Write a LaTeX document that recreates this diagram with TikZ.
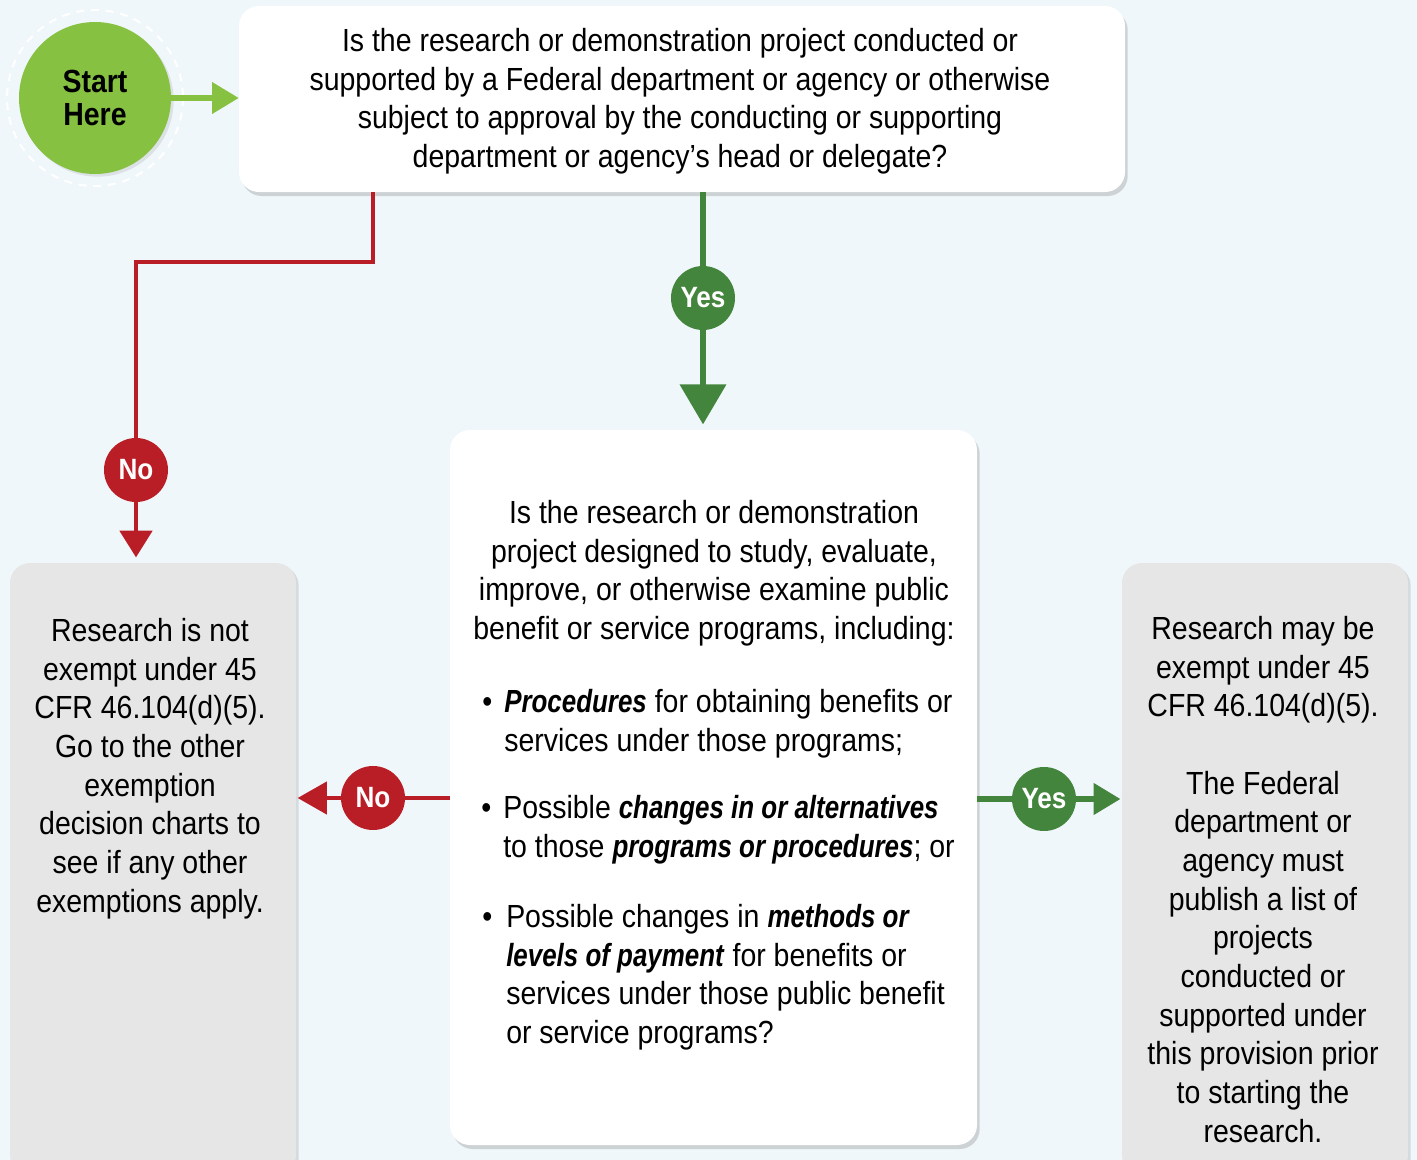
\documentclass[tikz,border=0pt]{standalone}
\usepackage{fontspec}
\setmainfont{Liberation Sans}[
	UprightFeatures={FakeStretch=0.89},
	BoldFeatures={FakeStretch=0.89},
	ItalicFeatures={FakeStretch=0.89},
	BoldItalicFeatures={FakeStretch=0.81}]
\usetikzlibrary{arrows.meta,shadows}

\definecolor{bgblue}{HTML}{F0F7FB}
\definecolor{startgreen}{HTML}{86C141}
\definecolor{yesgreen}{HTML}{44853D}
\definecolor{nored}{HTML}{B91E27}
\definecolor{resgray}{HTML}{E6E6E6}

\newlength\unitpx
\setlength\unitpx{0.75pt}

\tikzset{
	txt/.style={font=\fontsize{24}{29}\selectfont, inner sep=0pt, align=center},
	qbox/.style={fill=white, rounded corners=15pt,
		drop shadow={shadow xshift=2pt, shadow yshift=-3pt, opacity=0.25, fill=black!60}},
	resbox/.style={fill=resgray, rounded corners=15pt,
		drop shadow={shadow xshift=2pt, shadow yshift=-2pt, opacity=0.2, fill=black!60}},
	badge/.style={circle, inner sep=0pt, minimum size=64\unitpx, text=white,
		font=\fontsize{22}{26}\selectfont\bfseries},
	yesline/.style={draw=yesgreen, line width=4.5pt},
	noline/.style={draw=nored, line width=3.5pt},
}

\begin{document}
\begin{tikzpicture}[x=0.75pt, y=-0.75pt]
	\useasboundingbox (0,0) rectangle (1417,1160);
	\fill[bgblue] (0,0) rectangle (1417,1160);

	% boxes
	\draw (682,99) node(q1) [qbox, minimum width=886\unitpx, minimum height=186\unitpx] {};
	\draw (713.5,787.5) node(q2) [qbox, minimum width=527\unitpx, minimum height=715\unitpx] {};
	\draw (153,869) node(resno) [resbox, minimum width=286\unitpx, minimum height=612\unitpx] {};
	\draw (1265,869) node(resyes) [resbox, minimum width=286\unitpx, minimum height=612\unitpx] {};

	% start
	\draw (95,98) node(start) [circle, fill=startgreen, minimum size=152\unitpx, inner sep=0pt,
		drop shadow={shadow xshift=2pt, shadow yshift=-2pt, opacity=0.15, fill=black!60},
		font=\fontsize{24}{25}\selectfont\bfseries, align=center] {Start\\Here};
	\draw[white, line width=1.5pt, dash pattern=on 6pt off 5pt] (start.center) circle[radius=88];

	% badges
	\draw (703,298) node(yes1) [badge, fill=yesgreen] {Yes};
	\draw (136,470) node(no1) [badge, fill=nored] {No};
	\draw (373,798) node(no2) [badge, fill=nored] {No};
	\draw (1044,799) node(yes2) [badge, fill=yesgreen] {Yes};
	\coordinate (bend) at (373,262);

	% connectors
	\path[draw=startgreen, line width=3.8pt, -{Triangle[length=20pt, width=23pt]}] (start) -- (start -| q1.west);
	\path[yesline] (q1.south -| yes1) -- (yes1);
	\path[yesline, -{Triangle[length=30pt, width=34pt]}, shorten >=4pt] (yes1) -- (q2.north -| yes1);
	\path[noline] (q1.south -| bend) -- (bend) -| (no1);
	\path[noline, -{Triangle[length=20pt, width=24pt]}, shorten >=4pt] (no1) -- (resno.north -| no1);
	\path[noline] (q2.west |- no2) -- (no2);
	\path[noline, -{Triangle[length=22pt, width=24pt]}, shorten >=1pt] (no2) -- (no2 -| resno.east);
	\path[yesline, line width=3.8pt] (q2.east |- yes2) -- (yes2);
	\path[yesline, line width=3.8pt, -{Triangle[length=20pt, width=23pt]}, shorten >=1pt] (yes2) -- (yes2 -| resyes.west);

	% texts
	\node[txt, anchor=north] (t1) at (680,28) {Is the research or demonstration project conducted or\\supported by a Federal department or agency or otherwise\\subject to approval by the conducting or supporting\\department or agency’s head or delegate?};
	\node[txt, anchor=north] (t2) at (714,500) {Is the research or demonstration\\project designed to study, evaluate,\\improve, or otherwise examine public\\benefit or service programs, including:};
	\node[txt, anchor=north west, align=left] (b1) at (504,689) {\llap{•\hspace{12\unitpx}}\textbf{\textit{Procedures}} for obtaining benefits or\\services under those programs;};
	\node[txt, anchor=north west, align=left] (b2) at (503,795) {\llap{•\hspace{12\unitpx}}Possible \textbf{\textit{changes in or alternatives}}\\to those \textbf{\textit{programs or procedures}}; or};
	\node[txt, anchor=north west, align=left] (b3) at (506,904) {\llap{•\hspace{14\unitpx}}Possible changes in \textbf{\textit{methods or}}\\\textbf{\textit{levels of payment}} for benefits or\\services under those public benefit\\or service programs?};
	\node[txt, anchor=north] (t3) at (150,618) {Research is not\\exempt under 45\\CFR 46.104(d)(5).\\Go to the other\\exemption\\decision charts to\\see if any other\\exemptions apply.};
	\node[txt, anchor=north] (t4) at (1263,616) {Research may be\\exempt under 45\\CFR 46.104(d)(5).\\[29pt]The Federal\\department or\\agency must\\publish a list of\\projects\\conducted or\\supported under\\this provision prior\\to starting the\\research.};
\end{tikzpicture}
\end{document}
